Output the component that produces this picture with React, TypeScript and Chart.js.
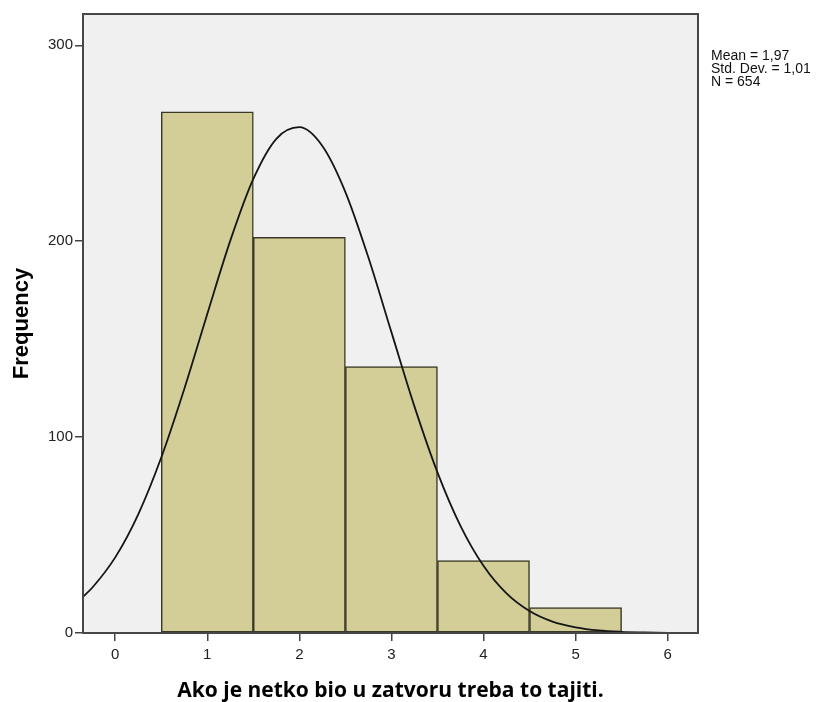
import { useEffect, useRef } from "react";
import { Chart, registerables } from "chart.js";

Chart.register(...registerables);

// ---- data ----
const binCenters = [1, 2, 3, 4, 5];
const frequencies = [266, 202, 136, 37, 13];

const curveX = [-0.35, -0.25, 0, 0.25, 0.5, 0.75, 1, 1.25, 1.5, 1.75, 2, 2.25, 2.5, 2.75, 3, 3.25, 3.5, 3.75, 4, 4.25, 4.5, 4.75, 5, 5.25, 5.5, 5.75, 6, 6.33];
const curveY = [18.5, 23.1, 38.6, 60.6, 89.6, 124.6, 162.9, 200.3, 231.8, 252.3, 258.2, 248.6, 225.1, 191.7, 153.6, 115.7, 82.0, 54.7, 34.3, 20.2, 11.2, 5.8, 2.9, 1.3, 0.6, 0.3, 0.1, 0.0];

const statsLines = ["Mean = 1,97", "Std. Dev. = 1,01", "N = 654"];
const xTitle = "Ako je netko bio u zatvoru treba to tajiti.";
const yTitle = "Frequency";
const xRange = [-0.35, 6.33];
const yRange = [0, 316];
const xStep = 1;
const yStep = 100;

const plotBgPlugin = {
  id: "plotBg",
  beforeDraw(chart: any) {
    const { ctx, chartArea } = chart;
    ctx.save();
    ctx.fillStyle = "#f0f0f0";
    ctx.fillRect(chartArea.left, chartArea.top, chartArea.right - chartArea.left, chartArea.bottom - chartArea.top);
    ctx.restore();
  },
  afterDraw(chart: any) {
    const { ctx, chartArea } = chart;
    ctx.save();
    ctx.strokeStyle = "#474747";
    ctx.lineWidth = 2;
    ctx.strokeRect(chartArea.left, chartArea.top, chartArea.right - chartArea.left, chartArea.bottom - chartArea.top);
    ctx.fillStyle = "#111";
    ctx.font = '14px "Liberation Sans", Arial, sans-serif';
    ctx.textBaseline = "alphabetic";
    ctx.textAlign = "left";
    statsLines.forEach((line, i) => {
      ctx.fillText(line, chartArea.right + 13, chartArea.top + 45.5 + i * 13.3);
    });
    ctx.restore();
  },
};

export default function App() {
  const ref = useRef<HTMLCanvasElement | null>(null);

  useEffect(() => {
    if (!ref.current) return;
    const chart = new Chart(ref.current, {
      type: "bar",
      data: {
        datasets: [
          {
            type: "line",
            data: curveX.map((x, i) => ({ x, y: curveY[i] })),
            borderColor: "#151515",
            borderWidth: 1.8,
            pointRadius: 0,
            cubicInterpolationMode: "monotone",
            fill: false,
            order: 0,
          } as any,
          {
            type: "bar",
            data: binCenters.map((x, i) => ({ x, y: frequencies[i] })),
            backgroundColor: "#d3ce98",
            borderColor: "#3a3826",
            borderWidth: 1.5,
            borderSkipped: false,
            barPercentage: 1,
            categoryPercentage: 1,
            order: 1,
          } as any,
        ],
      },
      plugins: [plotBgPlugin],
      options: {
        animation: false,
        responsive: false,
        layout: { padding: { top: 14, right: 130, left: 0, bottom: 0 } },
        plugins: { legend: { display: false }, tooltip: { enabled: false } },
        scales: {
          x: {
            type: "linear",
            min: xRange[0],
            max: xRange[1],
            offset: false,
            afterFit: (s: any) => {
              s.height = 69;
            },
            border: { display: false },
            grid: { drawOnChartArea: false, drawTicks: true, tickLength: 8, color: "#444", lineWidth: 1.5, offset: false },
            ticks: {
              stepSize: xStep,
              includeBounds: false,
              color: "#222",
              padding: 5,
              font: { family: '"Liberation Sans", Arial, sans-serif', size: 15 },
            },
            title: {
              display: true,
              text: xTitle,
              color: "#000",
              font: { family: '"Open Sans", sans-serif', size: 21, weight: "bold", lineHeight: 1 },
              padding: { top: 0, bottom: 0 },
            },
          },
          y: {
            type: "linear",
            min: yRange[0],
            max: yRange[1],
            afterFit: (s: any) => {
              s.width = 83;
            },
            border: { display: false },
            grid: { drawOnChartArea: false, drawTicks: true, tickLength: 8, color: "#444", lineWidth: 1.5 },
            ticks: {
              stepSize: yStep,
              includeBounds: false,
              color: "#222",
              padding: 2,
              font: { family: '"Liberation Sans", Arial, sans-serif', size: 15 },
            },
            title: {
              display: true,
              text: yTitle,
              color: "#000",
              font: { family: '"Liberation Sans", Arial, sans-serif', size: 22, weight: "bold", lineHeight: 1.2 },
              padding: { top: 9, bottom: 0 },
            },
          },
        },
      } as any,
    });
    return () => chart.destroy();
  }, []);

  return (
    <div style={{ position: "fixed", left: 0, top: 0, width: 828, height: 702, background: "#fff" }}>
      <canvas ref={ref} width={828} height={702} style={{ width: 828, height: 702, display: "block" }} />
    </div>
  );
}
